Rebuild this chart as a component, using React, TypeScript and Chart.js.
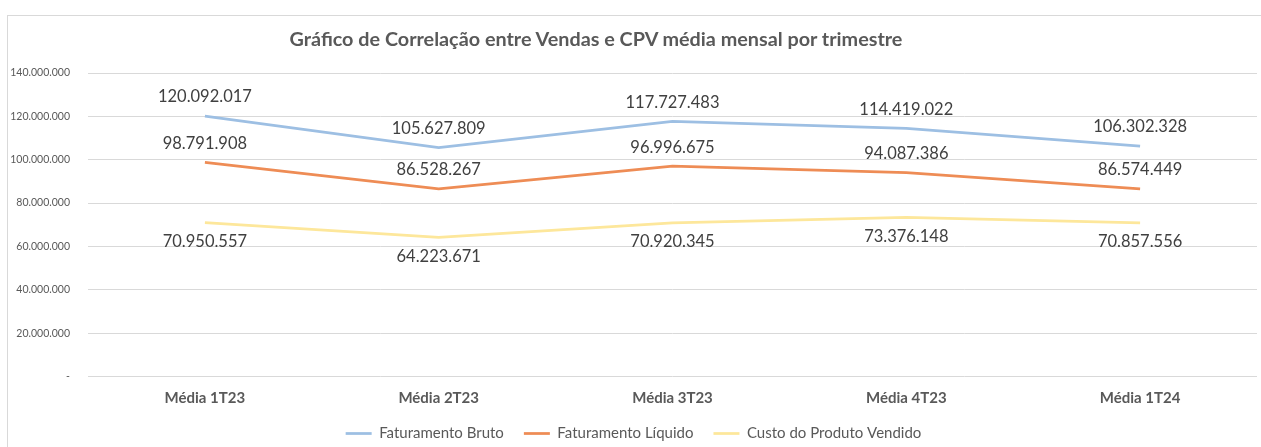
import React, { useEffect, useRef } from "react";
import { Chart, registerables } from "chart.js";

Chart.register(...registerables);

const categories = ["Média 1T23", "Média 2T23", "Média 3T23", "Média 4T23", "Média 1T24"];
const faturamentoBruto = [120092017, 105627809, 117727483, 114419022, 106302328];
const faturamentoLiquido = [98791908, 86528267, 96996675, 94087386, 86574449];
const custoProdutoVendido = [70950557, 64223671, 70920345, 73376148, 70857556];
const seriesNames = ["Faturamento Bruto", "Faturamento Líquido", "Custo do Produto Vendido"];
const yTicks = [0, 20000000, 40000000, 60000000, 80000000, 100000000, 120000000, 140000000];
const titleText = "Gráfico de Correlação entre Vendas e CPV média mensal por trimestre";

const FONT = "Lato, 'Open Sans', sans-serif";

const fmt = (v: number) => {
  if (v === 0) return "-";
  return Math.round(v).toString().replace(/\B(?=(\d{3})+(?!\d))/g, ".");
};

const labelPlugin = {
  id: "dataLabels",
  afterDatasetsDraw(chart: any) {
    const ctx = chart.ctx;
    ctx.save();
    ctx.font = `16.5px ${FONT}`;
    ctx.fillStyle = "#404040";
    ctx.textAlign = "center";
    ctx.textBaseline = "middle";
    chart.data.datasets.forEach((ds: any, di: number) => {
      const meta = chart.getDatasetMeta(di);
      const below = ds.labelBelow;
      meta.data.forEach((pt: any, i: number) => {
        const y = below ? pt.y + 19 : pt.y - 19;
        ctx.fillText(fmt(ds.data[i]), pt.x, y);
      });
    });
    ctx.restore();
  },
};

export default function App() {
  const ref = useRef<HTMLCanvasElement | null>(null);

  useEffect(() => {
    if (!ref.current) return;
    const chart = new Chart(ref.current, {
      type: "line",
      data: {
        labels: categories,
        datasets: [
          {
            label: seriesNames[0],
            data: faturamentoBruto,
            borderColor: "#9dbfe3",
            backgroundColor: "#9dbfe3",
            borderWidth: 2.75,
            pointRadius: 0,
            tension: 0,
          },
          {
            label: seriesNames[1],
            data: faturamentoLiquido,
            borderColor: "#ee8c55",
            backgroundColor: "#ee8c55",
            borderWidth: 2.75,
            pointRadius: 0,
            tension: 0,
          },
          {
            label: seriesNames[2],
            data: custoProdutoVendido,
            borderColor: "#fde79b",
            backgroundColor: "#fde79b",
            borderWidth: 2.75,
            pointRadius: 0,
            tension: 0,
            labelBelow: true,
          } as any,
        ],
      },
      options: {
        animation: false,
        responsive: false,
        layout: { padding: { left: 10, right: 4, top: 73, bottom: -4 } },
        scales: {
          x: {
            offset: true,
            grid: { display: false },
            border: { display: false },
            ticks: {
              color: "#595959",
              font: { family: FONT, size: 15, weight: "bold" },
              padding: 5,
              maxRotation: 0,
            },
            afterFit: (s: any) => {
              s.height = 29.5;
            },
          },
          y: {
            min: 0,
            max: 140000000,
            afterBuildTicks: (s: any) => {
              s.ticks = yTicks.map((v) => ({ value: v }));
            },
            grid: { color: "#d9d9d9", lineWidth: 1, drawTicks: false },
            border: { display: false },
            ticks: {
              color: "#595959",
              font: { family: FONT, size: 10.5 },
              padding: 18,
              callback: (v: any) => fmt(Number(v)),
            },
            afterFit: (s: any) => {
              s.width = 78;
            },
          },
        },
        plugins: {
          title: { display: false },
          tooltip: { enabled: false },
          legend: {
            position: "bottom",
            labels: {
              color: "#595959",
              font: { family: FONT, size: 15 },
              usePointStyle: true,
              pointStyle: "line",
              pointStyleWidth: 26,
              boxHeight: 15,
              padding: 20,
            },
          },
        },
      },
      plugins: [labelPlugin],
    });
    return () => chart.destroy();
  }, []);

  return (
    <div style={{ position: "absolute", left: 0, top: 0, width: 1261, height: 447, overflow: "hidden", background: "#fff" }}>
      <div
        style={{
          position: "absolute",
          left: 7,
          top: 15,
          width: 1300,
          height: 600,
          border: "1px solid #d9d9d9",
          boxSizing: "border-box",
        }}
      />
      <canvas ref={ref} width={1261} height={447} style={{ position: "absolute", left: 0, top: 0, width: 1261, height: 447 }} />
      <div
        style={{
          position: "absolute",
          left: 196,
          width: 800,
          top: 27,
          textAlign: "center",
          fontFamily: FONT,
          fontWeight: "bold",
          fontSize: 19.8,
          lineHeight: "22px",
          color: "#595959",
        }}
      >
        {titleText}
      </div>
    </div>
  );
}
